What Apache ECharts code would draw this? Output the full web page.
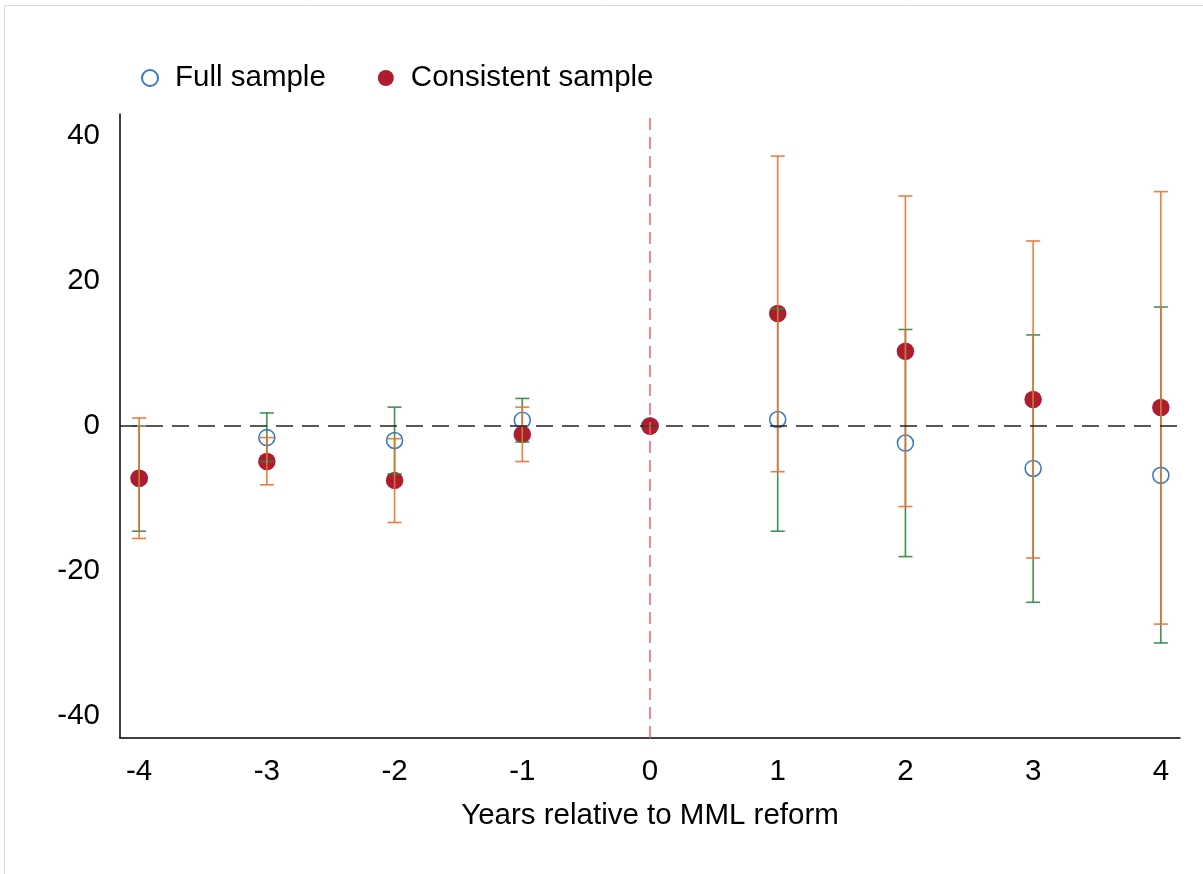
<!DOCTYPE html>
<html>
<head>
<meta charset="utf-8">
<script src="https://cdn.jsdelivr.net/npm/echarts@6/dist/echarts.min.js"></script>
<style>
html,body{margin:0;padding:0;background:#fff;}
#chart{width:1203px;height:874px;}
</style>
</head>
<body>
<div id="chart"></div>
<script>
// ---- data ----
const years = [-4, -3, -2, -1, 0, 1, 2, 3, 4];
const xTickLabels = [-4, -3, -2, -1, 0, 1, 2, 3, 4];
const yTickLabels = [-40, -20, 0, 20, 40];

const fullEst = [-7.2, -1.6, -2.0, 0.8, 0, 0.9, -2.35, -5.85, -6.8];
const fullLo  = [-14.5, -4.9, -6.6, -2.2, 0, -14.5, -18.0, -24.3, -29.9];
const fullHi  = [0.0, 1.8, 2.6, 3.8, 0, 16.15, 13.3, 12.55, 16.4];

const consEst = [-7.2, -4.9, -7.5, -1.15, 0, 15.5, 10.3, 3.65, 2.55];
const consLo  = [-15.5, -8.1, -13.3, -4.9, 0, -6.3, -11.1, -18.2, -27.3];
const consHi  = [1.1, -1.6, -1.75, 2.6, 0, 37.2, 31.7, 25.5, 32.3];

const FONT = 'Liberation Sans';
const FS = 29.5;

function errRender(color) {
  return function (params, api) {
    const x = api.value(0), lo = api.value(1), hi = api.value(2);
    const pLo = api.coord([x, lo]);
    const pHi = api.coord([x, hi]);
    const cw = 7;
    const style = { stroke: color, lineWidth: 1.6, opacity: 0.9 };
    return {
      type: 'group',
      children: [
        { type: 'line', shape: { x1: pLo[0], y1: pLo[1], x2: pHi[0], y2: pHi[1] }, style },
        { type: 'line', shape: { x1: pLo[0] - cw, y1: pLo[1], x2: pLo[0] + cw, y2: pLo[1] }, style },
        { type: 'line', shape: { x1: pHi[0] - cw, y1: pHi[1], x2: pHi[0] + cw, y2: pHi[1] }, style }
      ]
    };
  };
}

const chart = echarts.init(document.getElementById('chart'), null, { renderer: 'canvas' });
const option = {
  backgroundColor: '#fff',
  animation: false,
  graphic: [{
    type: 'rect', left: 2, top: 3, silent: true,
    shape: { x: 0, y: 0, width: 1300, height: 1000 },
    style: { fill: 'none', stroke: '#d8d8d8', lineWidth: 1 }
  }],
  legend: {
    left: 136, top: 58,
    itemWidth: 16, itemHeight: 16,
    itemGap: 52,
    textStyle: { fontFamily: FONT, fontSize: FS, color: '#000', padding: [0, 0, 0, 12] },
    data: ['Full sample', 'Consistent sample']
  },
  grid: { left: 120, right: 23, top: 114, bottom: 136, containLabel: false },
  xAxis: {
    type: 'value', min: -4.15, max: 4.15,
    name: 'Years relative to MML reform',
    nameLocation: 'middle', nameGap: 63,
    nameTextStyle: { fontFamily: FONT, fontSize: FS, color: '#000' },
    axisLine: { onZero: false, lineStyle: { color: '#000', width: 1.5 } },
    axisTick: { show: false, customValues: xTickLabels },
    axisLabel: { customValues: xTickLabels, fontFamily: FONT, fontSize: FS, color: '#000', margin: 19 },
    splitLine: { show: false }
  },
  yAxis: {
    type: 'value', min: -43, max: 43,
    axisLine: { show: true, onZero: false, lineStyle: { color: '#000', width: 1.5 } },
    axisTick: { show: false, customValues: yTickLabels },
    axisLabel: { customValues: yTickLabels, fontFamily: FONT, fontSize: FS, color: '#000', margin: 20 },
    splitLine: { show: false }
  },
  series: [
    {
      name: 'Full sample', type: 'scatter', symbol: 'circle', symbolSize: 16,
      itemStyle: { color: '#fff', borderColor: '#3a7cc2', borderWidth: 1.6, opacity: 1 },
      data: years.map((x, i) => [x, fullEst[i]]),
      markLine: {
        silent: true, symbol: 'none', label: { show: false },
        data: [
          { yAxis: 0, lineStyle: { color: '#222', type: [17, 9], width: 1.5 } },
          { xAxis: 0, lineStyle: { color: '#f0606a', type: [12, 7], width: 1.5 } }
        ]
      }
    },
    {
      name: 'Consistent sample', type: 'scatter', symbol: 'circle', symbolSize: 17.5,
      itemStyle: { color: '#ae1c2f', opacity: 1 },
      data: years.map((x, i) => [x, consEst[i]])
    },
    {
      name: 'Full CI', type: 'custom', renderItem: errRender('#2f8540'),
      data: years.map((x, i) => [x, fullLo[i], fullHi[i]]),
      z: 3
    },
    {
      name: 'Consistent CI', type: 'custom', renderItem: errRender('#ee6e2c'),
      data: years.map((x, i) => [x, consLo[i], consHi[i]]),
      z: 3
    }
  ]
};
chart.setOption(option);
</script>
</body>
</html>
